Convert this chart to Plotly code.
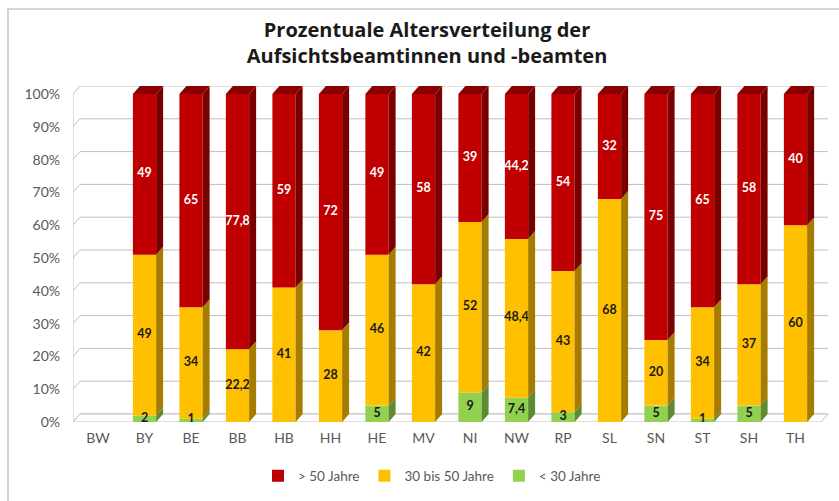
import plotly.graph_objects as go

categories = ["BW", "BY", "BE", "BB", "HB", "HH", "HE", "MV", "NI", "NW", "RP", "SL", "SN", "ST", "SH", "TH"]
under_30 = [0, 2, 1, 0, 0, 0, 5, 0, 9, 7.4, 3, 0, 5, 1, 5, 0]
age_30_50 = [0, 49, 34, 22.2, 41, 28, 46, 42, 52, 48.4, 43, 68, 20, 34, 37, 60]
over_50 = [0, 49, 65, 77.8, 59, 72, 49, 58, 39, 44.2, 54, 32, 75, 65, 58, 40]
y_ticks = [0, 10, 20, 30, 40, 50, 60, 70, 80, 90, 100]

series = [
    ("< 30 Jahre", under_30, "#92D050", "#5E8A32", "#1a1a1a"),
    ("30 bis 50 Jahre", age_30_50, "#FFC000", "#A67C00", "#1a1a1a"),
    ("> 50 Jahre", over_50, "#C00000", "#7A0000", "#FFFFFF"),
]

BAR_W = 0.5
DX = 0.15      # depth in category units
DY = 2.44      # depth in value units
X_MIN, X_MAX = -0.538, 15.699
Y_MAX = 102.44

fig = go.Figure()
shapes = []

grid_col = "#BFBFBF"
for v in y_ticks:
    shapes.append(dict(type="path", layer="below",
                       path=f"M {X_MIN},{v} L {X_MIN+DX},{v+DY} L {X_MAX},{v+DY}",
                       xref="x", yref="y", line=dict(color=grid_col, width=1)))
shapes.append(dict(type="path", layer="below",
                   path=f"M {X_MIN},0 L {X_MAX-DX},0 L {X_MAX},{DY} L {X_MIN+DX},{DY} Z",
                   xref="x", yref="y", fillcolor="white", line=dict(color=grid_col, width=1)))
shapes.append(dict(type="line", layer="below", x0=X_MIN, x1=X_MIN, y0=0, y1=100,
                   xref="x", yref="y", line=dict(color=grid_col, width=1)))

label_x, label_y, label_t, label_c = [], [], [], []
base = [0.0] * len(categories)
for name, vals, front, side, tcol in series:
    fig.add_trace(go.Bar(x=categories, y=vals, base=base[:], name=name,
                         marker=dict(color=front, line=dict(width=0)),
                         width=BAR_W, hoverinfo="skip"))
    for i, v in enumerate(vals):
        if v <= 0:
            continue
        y0, y1 = base[i], base[i] + v
        xr = i + BAR_W / 2
        shapes.append(dict(type="path", layer="above", xref="x", yref="y",
                           path=f"M {xr},{y0} L {xr+DX},{y0+DY} L {xr+DX},{y1+DY} L {xr},{y1} Z",
                           fillcolor=side, line=dict(width=0)))
        label_x.append(categories[i])
        label_y.append((y0 + y1) / 2)
        label_t.append(f"{v:g}".replace(".", ","))
        label_c.append(tcol)
    base = [b + v for b, v in zip(base, vals)]

for i in range(len(categories)):
    if base[i] <= 0:
        continue
    col = "#8A0000" if over_50[i] > 0 else "#C89600"
    xl, xr = i - BAR_W / 2, i + BAR_W / 2
    t = base[i]
    shapes.append(dict(type="path", layer="above", xref="x", yref="y",
                       path=f"M {xl},{t} L {xl+DX},{t+DY} L {xr+DX},{t+DY} L {xr},{t} Z",
                       fillcolor=col, line=dict(width=0)))

fig.add_trace(go.Scatter(x=label_x, y=label_y, text=label_t, mode="text",
                         textfont=dict(family="Lato", size=12.5, color=label_c, weight="bold"),
                         showlegend=False, hoverinfo="skip"))

shapes.append(dict(type="rect", xref="paper", yref="paper",
                   x0=-0.0861, x1=1.03, y0=-0.27, y1=1.229,
                   line=dict(color="#C8C8C8", width=1.5), layer="below"))

fig.update_layout(
    width=839, height=501,
    margin=dict(l=73, r=11, t=86, b=79, autoexpand=False),
    paper_bgcolor="white", plot_bgcolor="rgba(0,0,0,0)",
    barmode="overlay",
    shapes=shapes,
    title=dict(text="Prozentuale Altersverteilung der<br>Aufsichtsbeamtinnen und -beamten",
               x=427 / 839, xanchor="center", y=1 - 37 / 501, yanchor="middle",
               font=dict(family="Open Sans", size=20, color="#1a1a1a", weight="bold")),
    xaxis=dict(type="category", range=[X_MIN, X_MAX], showgrid=False, zeroline=False,
               showline=False, ticks="", tickfont=dict(family="Lato", size=14, color="#595959"),
               ticklabelstandoff=6),
    yaxis=dict(range=[0, Y_MAX], tickvals=y_ticks, ticktext=[f"{v}%" for v in y_ticks],
               showgrid=False, zeroline=False, showline=False, ticks="",
               tickfont=dict(family="Lato", size=14, color="#595959"), ticklabelstandoff=12),
    legend=dict(orientation="h", traceorder="reversed", xref="container", yref="container",
                x=432 / 839, xanchor="center", y=1 - 476 / 501, yanchor="middle",
                font=dict(family="Lato", size=13.5, color="#595959"), itemwidth=30),
    showlegend=True,
)

fig.write_html("out.html", config={"displayModeBar": False},
               post_script="document.body.style.margin='0';")
